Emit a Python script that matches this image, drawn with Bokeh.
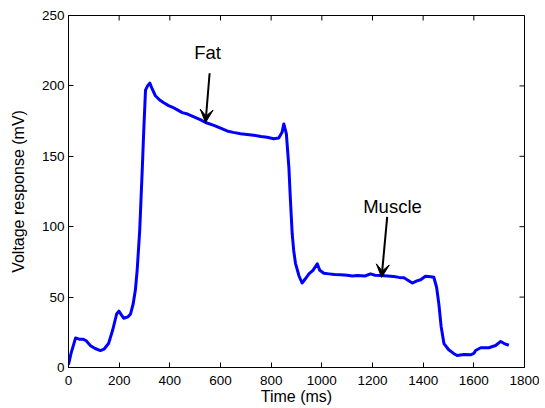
from bokeh.plotting import figure
from bokeh.models import Range1d, Arrow, VeeHead, ColumnDataSource, FixedTicker
from bokeh.core.properties import value
from bokeh.embed import file_html
from bokeh.resources import INLINE

time_ms = [0, 10, 28, 45, 59, 70, 87, 105, 126, 140, 158, 175, 190, 199, 210, 218, 235, 245, 255,
           264, 271, 281, 291, 297, 304, 312, 321, 330, 343, 360, 376, 395, 409, 430, 449, 470,
           495, 520, 541, 574, 600, 626, 650, 679, 705, 731, 760, 784, 810, 830, 843, 850, 860,
           870, 876, 883, 889, 896, 910, 922, 935, 949, 965, 982, 992, 1008, 1028, 1050, 1074,
           1100, 1120, 1140, 1170, 1192, 1210, 1232, 1260, 1284, 1305, 1324, 1340, 1357, 1375,
           1390, 1409, 1430, 1442, 1453, 1462, 1471, 1482, 1501, 1520, 1534, 1561, 1587, 1600,
           1607, 1627, 1659, 1686, 1706, 1720, 1738]
voltage_mv = [2, 10, 21, 20, 20, 19, 15.5, 13.5, 12, 13, 17, 27, 38, 40, 37, 35, 36, 38, 45,
              55, 69, 97, 140, 168, 197, 200, 202, 198, 193, 190, 188, 186, 185, 183, 181, 180,
              178, 176, 174, 172, 170, 168, 167, 166, 165.5, 165, 164, 163.5, 162.5, 163, 167,
              173, 166, 142, 119, 95, 83, 74, 65, 60, 63, 66.5, 69, 73.6, 69, 67, 66.5, 66,
              65.8, 65.5, 65, 65.3, 65, 66.5, 65.5, 65.3, 65, 64.6, 64, 63.7, 62, 60, 61.5,
              62.3, 64.8, 64.5, 64.1, 57, 45, 29, 17, 12.6, 10, 8.5, 9.2, 9, 10,
              12.1, 14, 14, 15.6, 18.5, 17, 15.8]

x_ticks = [0, 200, 400, 600, 800, 1000, 1200, 1400, 1600, 1800]
y_ticks = [0, 50, 100, 150, 200, 250]

ann_text = ["Fat", "Muscle"]
ann_text_x = [549, 1279]
ann_text_y = [224, 114]
arrow_x_start = [557, 1258]
arrow_y_start = [209, 107]
arrow_x_end = [541, 1236]
arrow_y_end = [174, 64]

FONT = "Liberation Sans"
X0, X1, Y0, Y1 = 0, 1800, 0, 250
FW, FH = 456, 352
TICK_PX = 5

p = figure(frame_width=FW, frame_height=FH, output_backend="svg", toolbar_location=None,
           x_range=Range1d(X0, X1), y_range=Range1d(Y0, Y1),
           min_border_left=68, min_border_top=15, min_border_right=15, min_border_bottom=30)

p.line(time_ms, voltage_mv, line_color="#0000ff", line_width=3, line_join="round")

for x0, y0, x1, y1 in zip(arrow_x_start, arrow_y_start, arrow_x_end, arrow_y_end):
    p.add_layout(Arrow(x_start=x0, y_start=y0, x_end=x1, y_end=y1, line_width=2, line_color="black",
                       end=VeeHead(size=13, fill_color="black", line_color="black", line_width=1)))

src = ColumnDataSource(dict(x=ann_text_x, y=ann_text_y, t=ann_text))
p.text(x="x", y="y", text="t", source=src, text_font=value(FONT), text_font_size="18.5px",
       text_align="center", text_baseline="middle", text_color="black")

# inward ticks on the top and right sides of the box
dx = TICK_PX * (X1 - X0) / FW
dy = TICK_PX * (Y1 - Y0) / FH
p.segment(x0=x_ticks, y0=[Y1] * len(x_ticks), x1=x_ticks, y1=[Y1 - dy] * len(x_ticks),
          line_color="black", line_width=1)
p.segment(x0=[X1] * len(y_ticks), y0=y_ticks, x1=[X1 - dx] * len(y_ticks), y1=y_ticks,
          line_color="black", line_width=1)

p.grid.visible = False
p.outline_line_color = "black"
p.outline_line_width = 1

p.xaxis.ticker = FixedTicker(ticks=x_ticks)
p.yaxis.ticker = FixedTicker(ticks=y_ticks)
p.xaxis.axis_label = "Time (ms)"
p.yaxis.axis_label = "Voltage response (mV)"

for ax in [p.xaxis[0], p.yaxis[0]]:
    ax.major_tick_in = TICK_PX
    ax.major_tick_out = 0
    ax.minor_tick_in = 0
    ax.minor_tick_out = 0
    ax.major_label_text_font = FONT
    ax.major_label_text_font_size = "13.5px"
    ax.major_label_text_color = "black"
    ax.axis_label_text_font = FONT
    ax.axis_label_text_font_size = "16px"
    ax.axis_label_text_font_style = "normal"
    ax.axis_label_text_color = "black"
    ax.axis_line_color = "black"
    ax.major_tick_line_color = "black"

p.xaxis.major_label_standoff = 8
p.xaxis.axis_label_standoff = 0
p.yaxis.major_label_standoff = 4
p.yaxis.axis_label_standoff = 12

open("out.html", "w").write(file_html(p, INLINE))
